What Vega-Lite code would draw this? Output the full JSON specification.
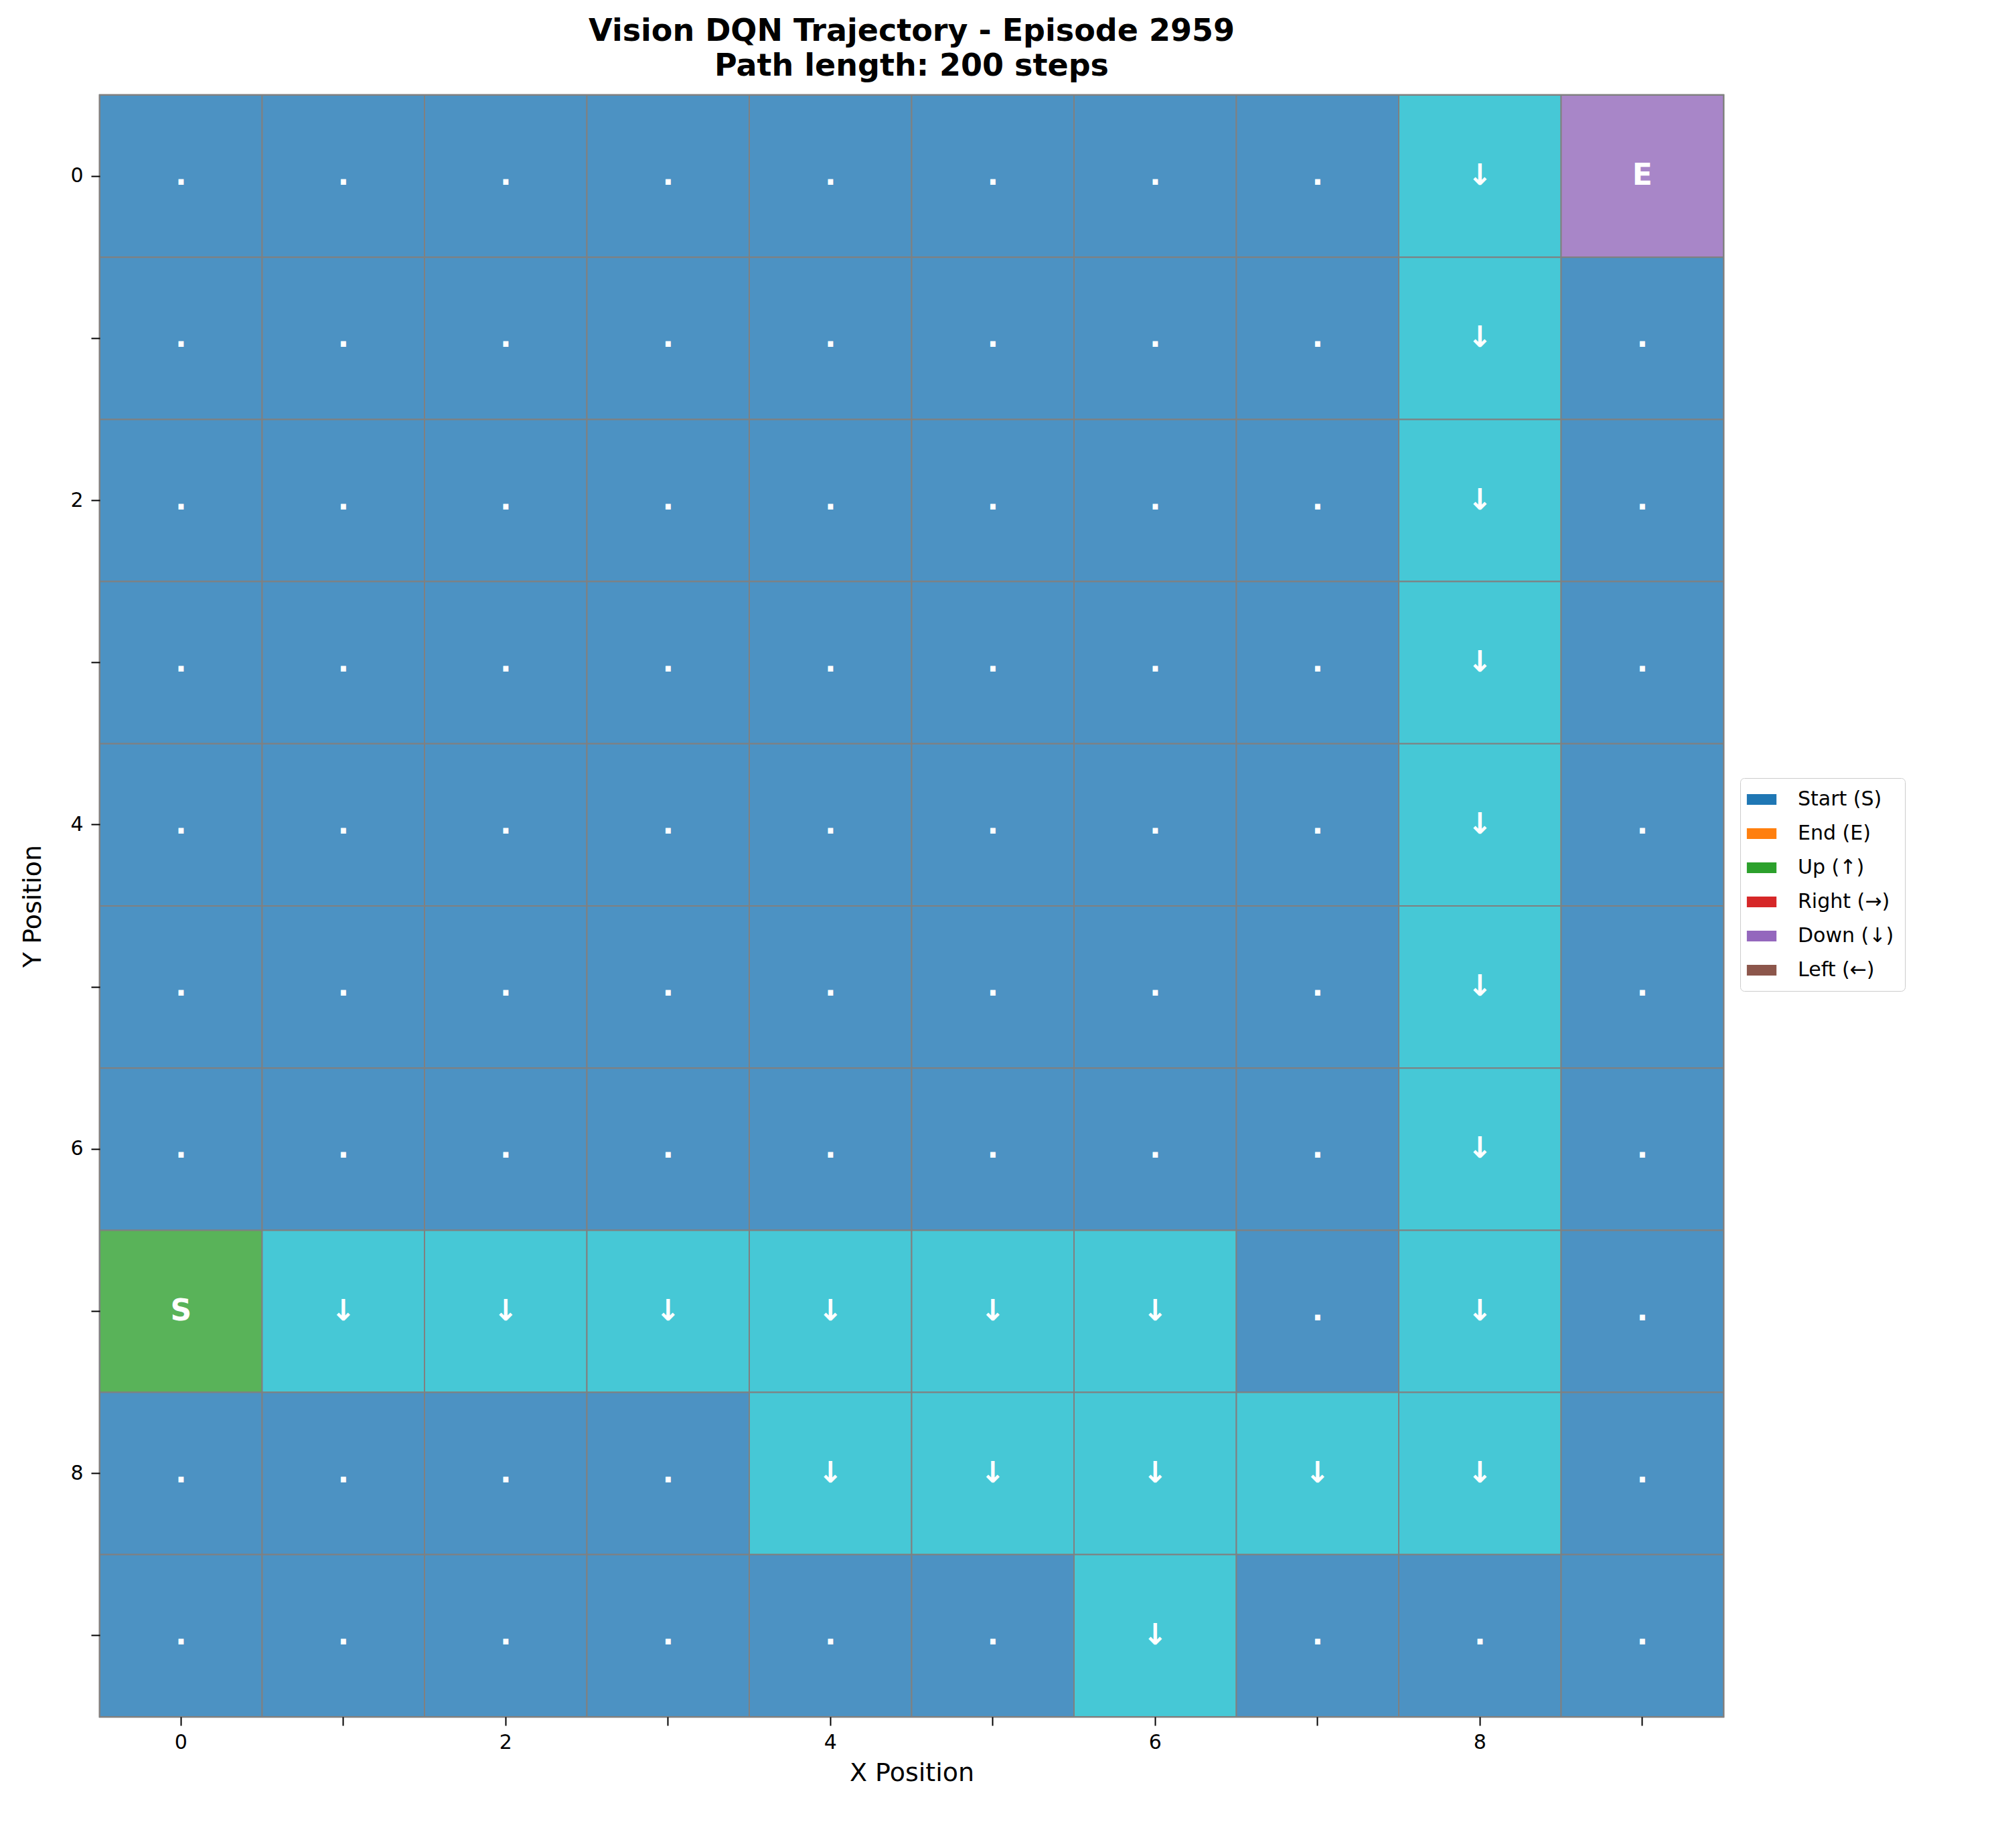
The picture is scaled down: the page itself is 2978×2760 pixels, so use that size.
{
  "$schema": "https://vega.github.io/schema/vega-lite/v6.json",
  "width": 2425,
  "height": 2422,
  "padding": {"left": 30, "top": 24, "right": 20, "bottom": 20},
  "background": "white",
  "title": {"text": ["Vision DQN Trajectory - Episode 2959", "Path length: 200 steps"], "fontSize": 46, "fontWeight": "bold", "font": "DejaVu Sans", "color": "black", "offset": 18, "lineHeight": 52},
  "config": {"font": "DejaVu Sans", "view": {"stroke": "black", "strokeWidth": 2.5}},
  "datasets": {
    "grid": [
      {"x":0,"y":0,"kind":"empty","label":"."},{"x":1,"y":0,"kind":"empty","label":"."},{"x":2,"y":0,"kind":"empty","label":"."},{"x":3,"y":0,"kind":"empty","label":"."},{"x":4,"y":0,"kind":"empty","label":"."},{"x":5,"y":0,"kind":"empty","label":"."},{"x":6,"y":0,"kind":"empty","label":"."},{"x":7,"y":0,"kind":"empty","label":"."},{"x":8,"y":0,"kind":"path","label":"↓"},{"x":9,"y":0,"kind":"end","label":"E"},
      {"x":0,"y":1,"kind":"empty","label":"."},{"x":1,"y":1,"kind":"empty","label":"."},{"x":2,"y":1,"kind":"empty","label":"."},{"x":3,"y":1,"kind":"empty","label":"."},{"x":4,"y":1,"kind":"empty","label":"."},{"x":5,"y":1,"kind":"empty","label":"."},{"x":6,"y":1,"kind":"empty","label":"."},{"x":7,"y":1,"kind":"empty","label":"."},{"x":8,"y":1,"kind":"path","label":"↓"},{"x":9,"y":1,"kind":"empty","label":"."},
      {"x":0,"y":2,"kind":"empty","label":"."},{"x":1,"y":2,"kind":"empty","label":"."},{"x":2,"y":2,"kind":"empty","label":"."},{"x":3,"y":2,"kind":"empty","label":"."},{"x":4,"y":2,"kind":"empty","label":"."},{"x":5,"y":2,"kind":"empty","label":"."},{"x":6,"y":2,"kind":"empty","label":"."},{"x":7,"y":2,"kind":"empty","label":"."},{"x":8,"y":2,"kind":"path","label":"↓"},{"x":9,"y":2,"kind":"empty","label":"."},
      {"x":0,"y":3,"kind":"empty","label":"."},{"x":1,"y":3,"kind":"empty","label":"."},{"x":2,"y":3,"kind":"empty","label":"."},{"x":3,"y":3,"kind":"empty","label":"."},{"x":4,"y":3,"kind":"empty","label":"."},{"x":5,"y":3,"kind":"empty","label":"."},{"x":6,"y":3,"kind":"empty","label":"."},{"x":7,"y":3,"kind":"empty","label":"."},{"x":8,"y":3,"kind":"path","label":"↓"},{"x":9,"y":3,"kind":"empty","label":"."},
      {"x":0,"y":4,"kind":"empty","label":"."},{"x":1,"y":4,"kind":"empty","label":"."},{"x":2,"y":4,"kind":"empty","label":"."},{"x":3,"y":4,"kind":"empty","label":"."},{"x":4,"y":4,"kind":"empty","label":"."},{"x":5,"y":4,"kind":"empty","label":"."},{"x":6,"y":4,"kind":"empty","label":"."},{"x":7,"y":4,"kind":"empty","label":"."},{"x":8,"y":4,"kind":"path","label":"↓"},{"x":9,"y":4,"kind":"empty","label":"."},
      {"x":0,"y":5,"kind":"empty","label":"."},{"x":1,"y":5,"kind":"empty","label":"."},{"x":2,"y":5,"kind":"empty","label":"."},{"x":3,"y":5,"kind":"empty","label":"."},{"x":4,"y":5,"kind":"empty","label":"."},{"x":5,"y":5,"kind":"empty","label":"."},{"x":6,"y":5,"kind":"empty","label":"."},{"x":7,"y":5,"kind":"empty","label":"."},{"x":8,"y":5,"kind":"path","label":"↓"},{"x":9,"y":5,"kind":"empty","label":"."},
      {"x":0,"y":6,"kind":"empty","label":"."},{"x":1,"y":6,"kind":"empty","label":"."},{"x":2,"y":6,"kind":"empty","label":"."},{"x":3,"y":6,"kind":"empty","label":"."},{"x":4,"y":6,"kind":"empty","label":"."},{"x":5,"y":6,"kind":"empty","label":"."},{"x":6,"y":6,"kind":"empty","label":"."},{"x":7,"y":6,"kind":"empty","label":"."},{"x":8,"y":6,"kind":"path","label":"↓"},{"x":9,"y":6,"kind":"empty","label":"."},
      {"x":0,"y":7,"kind":"start","label":"S"},{"x":1,"y":7,"kind":"path","label":"↓"},{"x":2,"y":7,"kind":"path","label":"↓"},{"x":3,"y":7,"kind":"path","label":"↓"},{"x":4,"y":7,"kind":"path","label":"↓"},{"x":5,"y":7,"kind":"path","label":"↓"},{"x":6,"y":7,"kind":"path","label":"↓"},{"x":7,"y":7,"kind":"empty","label":"."},{"x":8,"y":7,"kind":"path","label":"↓"},{"x":9,"y":7,"kind":"empty","label":"."},
      {"x":0,"y":8,"kind":"empty","label":"."},{"x":1,"y":8,"kind":"empty","label":"."},{"x":2,"y":8,"kind":"empty","label":"."},{"x":3,"y":8,"kind":"empty","label":"."},{"x":4,"y":8,"kind":"path","label":"↓"},{"x":5,"y":8,"kind":"path","label":"↓"},{"x":6,"y":8,"kind":"path","label":"↓"},{"x":7,"y":8,"kind":"path","label":"↓"},{"x":8,"y":8,"kind":"path","label":"↓"},{"x":9,"y":8,"kind":"empty","label":"."},
      {"x":0,"y":9,"kind":"empty","label":"."},{"x":1,"y":9,"kind":"empty","label":"."},{"x":2,"y":9,"kind":"empty","label":"."},{"x":3,"y":9,"kind":"empty","label":"."},{"x":4,"y":9,"kind":"empty","label":"."},{"x":5,"y":9,"kind":"empty","label":"."},{"x":6,"y":9,"kind":"path","label":"↓"},{"x":7,"y":9,"kind":"empty","label":"."},{"x":8,"y":9,"kind":"empty","label":"."},{"x":9,"y":9,"kind":"empty","label":"."}
    ],
    "legend": [
      {"x":0,"y":0,"entry":"Start (S)"},{"x":0,"y":0,"entry":"End (E)"},{"x":0,"y":0,"entry":"Up (↑)"},
      {"x":0,"y":0,"entry":"Right (→)"},{"x":0,"y":0,"entry":"Down (↓)"},{"x":0,"y":0,"entry":"Left (←)"}
    ]
  },
  "encoding": {
    "x": {"field": "x", "type": "ordinal", "scale": {"domain": [0,1,2,3,4,5,6,7,8,9], "paddingInner": 0, "paddingOuter": 0},
      "axis": {"title": "X Position", "titleFontSize": 38, "titleFontWeight": "normal", "labelFontSize": 30, "labelAngle": 0, "labelExpr": "datum.value % 2 == 0 ? datum.label : ''", "tickSize": 13, "tickWidth": 2, "tickColor": "black", "domain": false, "labelColor": "black", "titleColor": "black", "titlePadding": 12, "labelPadding": 10}},
    "y": {"field": "y", "type": "ordinal", "scale": {"domain": [0,1,2,3,4,5,6,7,8,9], "paddingInner": 0, "paddingOuter": 0},
      "axis": {"title": "Y Position", "titleFontSize": 38, "titleFontWeight": "normal", "labelFontSize": 30, "labelExpr": "datum.value % 2 == 0 ? datum.label : ''", "tickSize": 13, "tickWidth": 2, "tickColor": "black", "domain": false, "labelColor": "black", "titleColor": "black", "titlePadding": 36, "labelPadding": 12}}
  },
  "layer": [
    {
      "data": {"name": "grid"},
      "mark": {"type": "rect", "stroke": "#808080", "strokeWidth": 2},
      "encoding": {
        "color": {"field": "kind", "type": "nominal", "legend": null,
          "scale": {"domain": ["empty", "path", "start", "end"], "range": ["#4c92c3", "#46c8d6", "#59b359", "#a886c8"]}}
      }
    },
    {
      "data": {"name": "grid"},
      "mark": {"type": "text", "color": "white", "fontSize": 44, "fontWeight": "bold", "baseline": "middle"},
      "encoding": {"text": {"field": "label"}}
    },
    {
      "data": {"name": "legend"},
      "mark": {"type": "square", "opacity": 0, "size": 1},
      "encoding": {
        "color": {"field": "entry", "type": "nominal",
          "scale": {"domain": ["Start (S)", "End (E)", "Up (↑)", "Right (→)", "Down (↓)", "Left (←)"], "range": ["#1f77b4", "#ff7f0e", "#2ca02c", "#d62728", "#9467bd", "#8c564b"]},
          "legend": {"title": null, "orient": "none", "legendX": 2450, "legendY": 1020, "symbolType": "M-1.4,-0.5H1.4V0.5H-1.4Z", "symbolOpacity": 1, "symbolSize": 1000, "symbolStrokeWidth": 0, "labelFontSize": 30, "labelColor": "black", "rowPadding": 20, "padding": 16, "strokeColor": "#cccccc", "fillColor": "white", "cornerRadius": 6, "labelOffset": 38}}
      }
    }
  ],
  "resolve": {"scale": {"color": "independent"}}
}
